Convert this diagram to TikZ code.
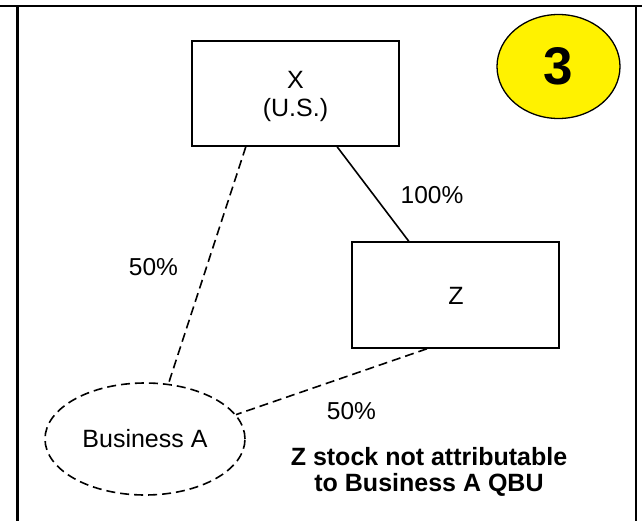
\documentclass[tikz,border=0pt]{standalone}
\usepackage{fontspec}
\setmainfont{Liberation Sans}
\usetikzlibrary{shapes.geometric}
\tikzset{
  entbox/.style={draw, line width=1.6pt, rectangle, minimum width=207pt, minimum height=105pt, inner sep=0pt},
  boxtext/.style={inner sep=0pt, align=center, font=\fontsize{25}{28}\selectfont},
  bizell/.style={draw, line width=1.6pt, ellipse, minimum width=200pt, minimum height=112pt, inner sep=0pt, dash pattern=on 9pt off 5pt, font=\fontsize{25}{28}\selectfont},
  badge/.style={draw, line width=1.3pt, ellipse, fill=yellow, minimum width=123pt, minimum height=104pt, inner sep=0pt, font=\fontsize{53}{56}\selectfont\bfseries},
  pct/.style={inner sep=0pt, font=\fontsize{24.5}{27}\selectfont},
  note/.style={inner sep=0pt, align=center, font=\fontsize{25}{26}\selectfont\bfseries},
  link/.style={line width=1.6pt},
  dlink/.style={line width=1.6pt, dash pattern=on 9pt off 5pt},
  frame/.style={line width=2.6pt}
}
\begin{document}
\begin{tikzpicture}[x=1pt,y=-1pt]
\useasboundingbox (0,0) rectangle (642,521);
% frame
\draw[frame] (0,6) -- (642,6);
\draw[frame] (17.3,6) -- (17.3,521);
\draw[frame] (636,6) -- (636,521);
% nodes
\node[entbox] (X) at (295.5,93.5) {};
\node[boxtext] (Xt) at (295.5,96) {X\\(U.S.)};
\node[entbox, minimum height=106pt] (Z) at (455.5,295) {};
\node[boxtext] (Zt) at (456,296) {Z};
\node[bizell] (A) at (145,439) {Business A};
\node[badge] (B) at (558.5,66.5) {3};
% labels
\node[pct] (p100) at (432,195.5) {100\%};
\node[pct] (p50a) at (153.5,267.5) {50\%};
\node[pct] (p50b) at (351.5,411.5) {50\%};
\node[note] (N) at (429,472) {Z stock not attributable\\to Business A QBU};
% connectors
\draw[link] (X.308.3) -- (Z.131.9);
\draw[dlink] (X.227.3) -- (A.67);
\draw[dlink] (Z.242.6) -- (A.15);
\end{tikzpicture}
\end{document}
